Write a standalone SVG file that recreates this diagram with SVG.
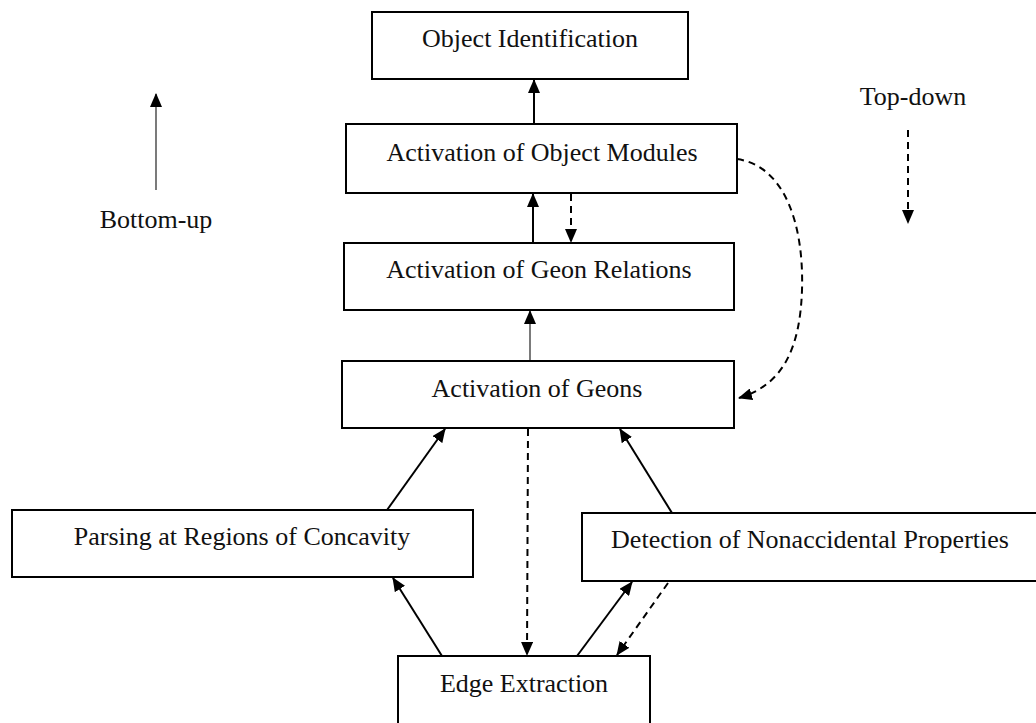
<svg xmlns="http://www.w3.org/2000/svg" width="1036" height="723" viewBox="0 0 1036 723">
<defs>
<marker id="ah" markerUnits="userSpaceOnUse" markerWidth="14" markerHeight="12" viewBox="0 0 14 12" refX="13" refY="6" orient="auto">
<path d="M0,0 L14,6 L0,12 z" fill="#000"/>
</marker>
<style>
.box{fill:#fff;stroke:#000;stroke-width:2}
.lbl{font-family:"Liberation Serif","Times New Roman",serif;font-size:26px;fill:#111;text-anchor:middle}
.solid{fill:none;stroke:#000;stroke-width:2;marker-end:url(#ah)}
.thin{fill:none;stroke:#333;stroke-width:1.3;marker-end:url(#ah)}
.dash{fill:none;stroke:#000;stroke-width:2;stroke-dasharray:7,5;marker-end:url(#ah)}
</style>
</defs>
<rect width="1036" height="723" fill="#fff"/>
<g id="connectors">
<line class="solid" x1="534" y1="124" x2="534" y2="80"/>
<line class="solid" x1="533" y1="243" x2="533" y2="194"/>
<line class="dash" x1="571" y1="194" x2="571" y2="242"/>
<line class="thin" x1="530" y1="361" x2="530" y2="311"/>
<path class="dash" d="M737,159 C785,166 804,225 802,290 C800,350 782,385 739,398"/>
<line class="solid" x1="387" y1="510" x2="445" y2="429"/>
<line class="solid" x1="442" y1="656" x2="393" y2="578"/>
<line class="solid" x1="672" y1="513" x2="620" y2="429"/>
<line class="solid" x1="577" y1="656" x2="632" y2="582"/>
<line class="dash" x1="668" y1="583" x2="617" y2="655"/>
<line class="dash" x1="528" y1="429" x2="527" y2="655"/>
<line class="thin" x1="156" y1="190" x2="156" y2="94"/>
<line class="dash" x1="908" y1="130" x2="908" y2="223"/>
</g>
<g id="object-identification">
<rect class="box" x="372" y="12" width="316" height="67"/>
<text class="lbl" x="530" y="47">Object Identification</text>
</g>
<g id="object-modules">
<rect class="box" x="346" y="124" width="391" height="69"/>
<text class="lbl" x="542" y="161">Activation of Object Modules</text>
</g>
<g id="geon-relations">
<rect class="box" x="344" y="243" width="390" height="67"/>
<text class="lbl" x="539" y="278">Activation of Geon Relations</text>
</g>
<g id="geons">
<rect class="box" x="342" y="361" width="392" height="67"/>
<text class="lbl" x="537" y="397">Activation of Geons</text>
</g>
<g id="parsing">
<rect class="box" x="12" y="510" width="461" height="67"/>
<text class="lbl" x="242" y="545">Parsing at Regions of Concavity</text>
</g>
<g id="nonaccidental">
<rect class="box" x="582" y="513" width="460" height="68"/>
<text class="lbl" x="810" y="548">Detection of Nonaccidental Properties</text>
</g>
<g id="edge-extraction">
<rect class="box" x="398" y="656" width="252" height="70"/>
<text class="lbl" x="524" y="692">Edge Extraction</text>
</g>
<g id="bottom-up">
<text class="lbl" x="156" y="228">Bottom-up</text>
</g>
<g id="top-down">
<text class="lbl" x="913" y="105">Top-down</text>
</g>
</svg>
